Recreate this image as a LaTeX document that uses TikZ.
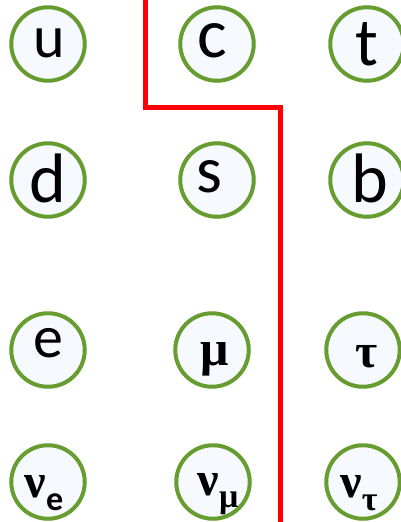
\documentclass[tikz,border=0pt]{standalone}
\usepackage{fontspec}
\setmainfont{Carlito}
\newfontfamily\gk{Liberation Serif}
\definecolor{ringgreen}{RGB}{102,156,48}
\definecolor{ringfill}{RGB}{246,249,254}
\newcommand{\fs}[1]{\fontsize{#1}{#1}\selectfont}
\begin{document}
\begin{tikzpicture}[x=1pt,y=-1pt,
  particle/.style={circle,draw=ringgreen,fill=ringfill,line width=4pt,
                   minimum size=73.5pt,inner sep=0pt},
  sym/.style={anchor=base,inner sep=0pt,text=black},
  divider/.style={draw=red,line width=5pt,line join=miter}]
\useasboundingbox (0,0) rectangle (401,522);

% quark and lepton rings
\node[particle] (u)   at (48,44)  {};
\node[particle] (c)   at (217,44) {};
\node[particle] (t)   at (367,44) {};
\node[particle] (d)   at (48,180) {};
\node[particle] (s)   at (217,180) {};
\node[particle] (b)   at (367,180) {};
\node[particle] (e)   at (48,350) {};
\node[particle] (mu)  at (212,350) {};
\node[particle] (tau) at (363,350) {};
\node[particle] (ne)  at (48,482) {};
\node[particle] (nm)  at (213,482) {};
\node[particle] (nt)  at (363,482) {};

% symbols, placed by baseline
\node[sym] (lu)   at (49,57)   {\fs{60}u};
\node[sym] (lc)   at (212,57)  {\fs{70}c};
\node[sym] (lt)   at (367,65)  {\fs{68}t};
\node[sym] (ld)   at (48,202)  {\fs{70}d};
\node[sym] (ls)   at (209,192) {\fs{66}s};
\node[sym] (lb)   at (370,202) {\fs{70}b};
\node[sym] (le)   at (48,357)  {\fs{60}e};
\node[sym] (lmu)  at (215,365) {\gk\bfseries\fs{50}μ};
\node[sym] (ltau) at (367,367) {\gk\bfseries\fs{48}τ};
\node[sym] (lne)  at (44,497)  {\gk\bfseries\fs{48}ν\raisebox{-13pt}{\rmfamily\bfseries\fs{34}e}};
\node[sym] (lnm)  at (218,495) {\gk\bfseries\fs{48}ν\raisebox{-12pt}{\fs{34}μ}};
\node[sym] (lnt)  at (359,497) {\gk\bfseries\fs{48}ν\raisebox{-13pt}{\fs{34}τ}};

% dividing line
\coordinate (top)   at (145,-3);
\coordinate (kneeA) at (145,107);
\coordinate (kneeB) at (280,107);
\coordinate (bot)   at (280,525);
\draw[divider] (top) -- (kneeA) -- (kneeB) -- (bot);
\end{tikzpicture}
\end{document}
